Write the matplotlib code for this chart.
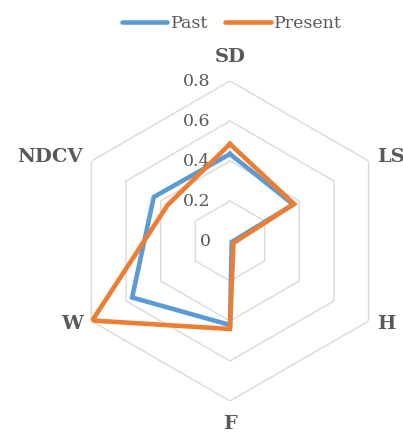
import numpy as np
import matplotlib
matplotlib.use('Agg')
import matplotlib.pyplot as plt

categories = ['SD', 'LS', 'H', 'F', 'W', 'NDCV']
past = [0.435, 0.365, 0.01, 0.42, 0.565, 0.44]
present = [0.485, 0.37, 0.02, 0.44, 0.795, 0.36]
ring_values = [0.2, 0.4, 0.6, 0.8]
tick_labels = ['0', '0.2', '0.4', '0.6', '0.8']
tick_values = [0.0, 0.2, 0.4, 0.6, 0.8]

blue = '#5B9BD5'
orange = '#ED7D31'
text_grey = '#595959'
grid_grey = '#D9D9D9'

plt.rcParams['font.family'] = ['DejaVu Serif']

fig = plt.figure(figsize=(4.03, 4.32), dpi=100)
ax = fig.add_axes([70 / 403, 31 / 432, 320 / 403, 320 / 432], projection='polar')
ax.set_theta_offset(np.pi / 2)
ax.set_theta_direction(-1)
ax.set_ylim(0, 0.8)
ax.grid(False)
ax.spines['polar'].set_visible(False)
ax.set_xticks([])
ax.set_yticks([])

n = len(categories)
angles = np.linspace(0, 2 * np.pi, n, endpoint=False)
closed = np.append(angles, angles[0])

# hexagonal grid rings
for r in ring_values:
    ax.plot(closed, [r] * (n + 1), color=grid_grey, lw=1.0, zorder=1)

# data
ax.plot(closed, past + past[:1], color=blue, lw=3.3, label='Past', zorder=3,
        solid_joinstyle='miter')
ax.plot(closed, present + present[:1], color=orange, lw=3.3, label='Present', zorder=4,
        solid_joinstyle='miter')

# radial tick labels
for v, t in zip(tick_values, tick_labels):
    ax.annotate(t, xy=(0, v), xytext=(-14, 0), textcoords='offset points',
                ha='right', va='center', fontsize=12.5, color=text_grey)

# category labels
offsets = {'SD': (0, 11, 'center', 'bottom'),
           'LS': (6, 3, 'left', 'center'),
           'H': (6, -2, 'left', 'center'),
           'F': (0, -10, 'center', 'top'),
           'W': (-6, -2, 'right', 'center'),
           'NDCV': (-6, 3, 'right', 'center')}
for a, c in zip(angles, categories):
    dx, dy, ha, va = offsets[c]
    ax.annotate(c, xy=(a, 0.8), xytext=(dx, dy), textcoords='offset points',
                ha=ha, va=va, fontsize=14, fontweight='bold', color=text_grey,
                annotation_clip=False)

leg = fig.legend(loc='center', bbox_to_anchor=(232 / 403, 1 - 24 / 432), ncol=2,
                 frameon=False, fontsize=12.5, handlelength=2.6, handletextpad=0.2,
                 columnspacing=1.0, borderaxespad=0)
for t in leg.get_texts():
    t.set_color(text_grey)
for h in leg.legend_handles:
    h.set_linewidth(3.3)
    h.set_solid_capstyle('round')

fig.savefig('out.png', dpi=100)
